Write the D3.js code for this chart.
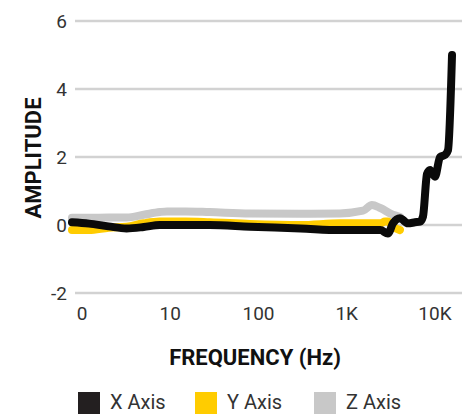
<!DOCTYPE html>
<html>
<head>
<meta charset="utf-8">
<script src="https://cdn.jsdelivr.net/npm/d3@7"></script>
<style>
  html, body { margin: 0; padding: 0; background: #fff; }
  svg { display: block; font-family: Roboto, "Noto Sans", sans-serif; }
</style>
</head>
<body>
<svg id="chart" width="469" height="414"></svg>
<script>
// ---- data ----
const xTickValues = [1, 10, 100, 1000, 10000];
const xTickLabels = ["0", "10", "100", "1K", "10K"];
const yTickValues = [-2, 0, 2, 4, 6];

const freqX = [0.77, 1.2, 2, 3.2, 5, 7.6, 15, 28, 80, 300, 835, 2400, 2930, 3340, 4000, 4940, 5930, 6760, 7310, 8120, 8780, 10000, 11400, 12980, 14040, 15590];
const ampX  = [0.08, 0.04, -0.04, -0.1, -0.06, 0.0, 0.0, 0.0, -0.05, -0.1, -0.15, -0.15, -0.25, 0.05, 0.2, 0.05, 0.08, 0.1, 0.25, 1.5, 1.62, 1.42, 2.0, 2.06, 2.2, 5.0];

const freqY = [0.77, 1.2, 2, 3.2, 5, 7.6, 15, 28, 80, 300, 835, 2400, 2710, 2930, 3340, 4010];
const ampY  = [-0.15, -0.15, -0.08, -0.05, 0.05, 0.1, 0.1, 0.08, 0.03, 0.0, 0.05, 0.05, 0.1, 0.1, -0.05, -0.15];

const freqZ = [0.77, 1.2, 2, 3.2, 5, 7.6, 9.2, 15, 28, 80, 300, 835, 1530, 1930, 2400, 3340, 4010];
const ampZ  = [0.21, 0.21, 0.22, 0.22, 0.3, 0.38, 0.4, 0.4, 0.38, 0.34, 0.33, 0.34, 0.42, 0.59, 0.5, 0.3, 0.24];

const seriesNames = ["X Axis", "Y Axis", "Z Axis"];
const seriesColors = ["#0a0a0a", "#ffcc00", "#c8c8c8"];
const swatchColors = ["#231f20", "#ffcc00", "#c8c8c8"];

// ---- chart ----
const svg = d3.select("#chart");
const x = d3.scaleLog().domain([1, 10000]).range([82, 435]);
const y = d3.scaleLinear().domain([-2, 6]).range([293, 21]);

// gridlines
svg.append("g").selectAll("line").data(yTickValues).join("line")
  .attr("x1", 75).attr("x2", 462)
  .attr("y1", d => y(d)).attr("y2", d => y(d))
  .attr("stroke", "#d2d2d2").attr("stroke-width", 2.5);

// y tick labels
svg.append("g").selectAll("text").data(yTickValues).join("text")
  .attr("x", 67).attr("y", d => y(d)).attr("dy", "0.35em")
  .attr("text-anchor", "end")
  .attr("font-size", 19).attr("fill", "#333")
  .text(d => d);

// x tick labels
svg.append("g").selectAll("text").data(xTickValues).join("text")
  .attr("x", d => x(d)).attr("y", 320)
  .attr("text-anchor", "middle")
  .attr("font-size", 19).attr("fill", "#333")
  .text((d, i) => xTickLabels[i]);

// axis titles
svg.append("text")
  .attr("x", 255).attr("y", 365)
  .attr("text-anchor", "middle")
  .attr("font-size", 22).attr("font-weight", "bold").attr("fill", "#111")
  .text("FREQUENCY (Hz)");

svg.append("text")
  .attr("transform", "translate(41,158) rotate(-90)")
  .attr("text-anchor", "middle")
  .attr("font-size", 22).attr("font-weight", "bold").attr("fill", "#111")
  .text("AMPLITUDE");

// lines
const line = d3.line().x(d => x(d[0])).y(d => y(d[1])).curve(d3.curveMonotoneX);
const series = [
  { f: freqZ, a: ampZ, c: seriesColors[2] },
  { f: freqY, a: ampY, c: seriesColors[1] },
  { f: freqX, a: ampX, c: seriesColors[0] }
];
svg.append("g").selectAll("path").data(series).join("path")
  .attr("d", s => line(s.f.map((f, i) => [f, s.a[i]])))
  .attr("fill", "none")
  .attr("stroke", s => s.c)
  .attr("stroke-width", 8)
  .attr("stroke-linecap", "round")
  .attr("stroke-linejoin", "round");

// legend
const legendX = [78, 195, 314];
const lg = svg.append("g").selectAll("g").data(seriesNames).join("g")
  .attr("transform", (d, i) => `translate(${legendX[i]},392)`);
lg.append("rect").attr("width", 22).attr("height", 22)
  .attr("fill", (d, i) => swatchColors[i]);
lg.append("text").attr("x", 32).attr("y", 17)
  .attr("font-size", 20).attr("fill", "#333")
  .text(d => d);
</script>
</body>
</html>
